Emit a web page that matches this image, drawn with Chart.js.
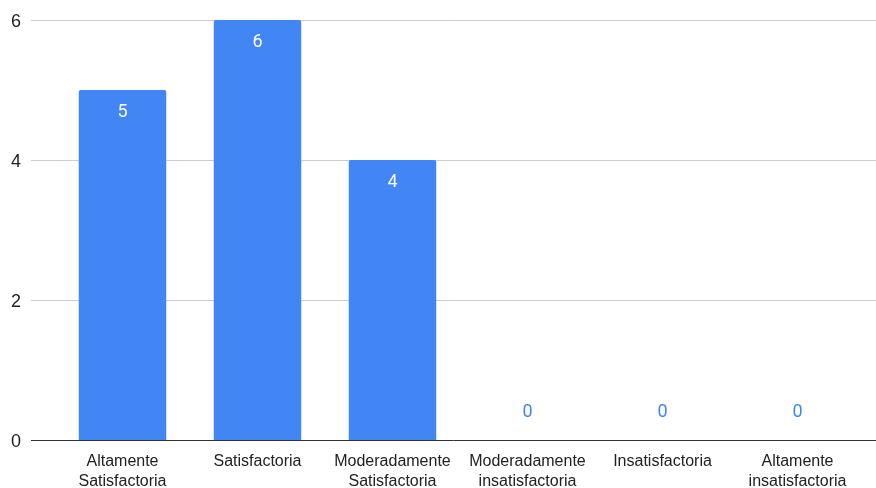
<!DOCTYPE html>
<html>
<head>
<meta charset="utf-8">
<script src="https://cdn.jsdelivr.net/npm/chart.js@4"></script>
<style>
html,body{margin:0;padding:0;background:#fff;}
#wrap{width:876px;height:488px;position:relative;}
</style>
</head>
<body>
<div id="wrap"><canvas id="c"></canvas></div>
<script>
const categories = [
  ["Altamente", "Satisfactoria"],
  ["Satisfactoria"],
  ["Moderadamente", "Satisfactoria"],
  ["Moderadamente", "insatisfactoria"],
  ["Insatisfactoria"],
  ["Altamente", "insatisfactoria"]
];
const values = [5, 6, 4, 0, 0, 0];
const yTicks = [0, 2, 4, 6];

const AXFONT = "'Liberation Sans', Arial, sans-serif";
const LBLFONT = "Roboto, 'Liberation Sans', Arial, sans-serif";
const BLUE = "#4285F4";

const gridPlugin = {
  id: 'extGrid',
  beforeDatasetsDraw(chart) {
    const ctx = chart.ctx;
    const y = chart.scales.y;
    ctx.save();
    yTicks.forEach(v => {
      const py = Math.round(y.getPixelForValue(v));
      ctx.beginPath();
      ctx.strokeStyle = v === 0 ? '#333333' : '#cccccc';
      ctx.lineWidth = 1;
      ctx.moveTo(31, py + 0.5);
      ctx.lineTo(876, py + 0.5);
      ctx.stroke();
    });
    ctx.restore();
  },
  afterDatasetsDraw(chart) {
    const ctx = chart.ctx;
    const meta = chart.getDatasetMeta(0);
    const y = chart.scales.y;
    ctx.save();
    ctx.font = "18px " + LBLFONT;
    ctx.textAlign = 'center';
    ctx.textBaseline = 'middle';
    meta.data.forEach((bar, i) => {
      const v = values[i];
      if (v > 0) {
        ctx.fillStyle = '#ffffff';
        ctx.fillText(String(v), bar.x, bar.y + 22);
      } else {
        ctx.fillStyle = BLUE;
        ctx.fillText(String(v), bar.x, y.getPixelForValue(0) - 28);
      }
    });
    ctx.restore();
  }
};

new Chart(document.getElementById('c'), {
  type: 'bar',
  data: {
    labels: categories,
    datasets: [{
      data: values,
      backgroundColor: BLUE,
      borderWidth: 0,
      borderRadius: {topLeft: 2, topRight: 2, bottomLeft: 0, bottomRight: 0},
      borderSkipped: 'bottom',
      categoryPercentage: 1,
      barPercentage: 0.648
    }]
  },
  options: {
    responsive: true,
    maintainAspectRatio: false,
    animation: false,
    devicePixelRatio: 1,
    layout: {padding: {left: 11, right: 11, top: 20, bottom: 0}},
    plugins: {legend: {display: false}, tooltip: {enabled: false}},
    scales: {
      x: {
        type: 'category',
        offset: true,
        grid: {display: false, drawTicks: false},
        border: {display: false},
        ticks: {
          color: '#222222',
          font: {family: AXFONT, size: 16, lineHeight: 1.25},
          padding: 12,
          maxRotation: 0,
          autoSkip: false
        },
        afterFit(scale) { scale.height = 48; }
      },
      y: {
        min: 0,
        max: 6,
        grid: {display: false, drawTicks: false},
        border: {display: false},
        afterBuildTicks(scale) { scale.ticks = yTicks.map(v => ({value: v})); },
        ticks: {
          color: '#222222',
          font: {family: AXFONT, size: 18},
          crossAlign: 'far',
          padding: 0,
          labelOffset: 2
        },
        afterFit(scale) { scale.width = 44; }
      }
    }
  },
  plugins: [gridPlugin]
});
</script>
</body>
</html>
